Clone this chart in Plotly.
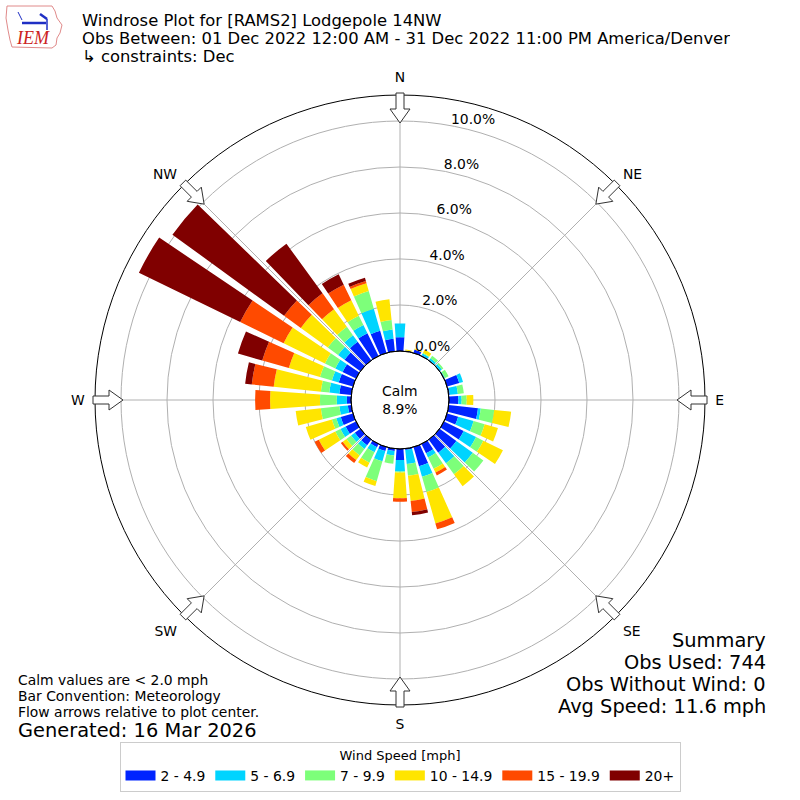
import math

import plotly.graph_objects as go

# wind direction bins (degrees, meteorological: direction wind blows from)
directions = list(range(0, 360, 10))

speed_labels = ["2 - 4.9", "5 - 6.9", "7 - 9.9", "10 - 14.9", "15 - 19.9", "20+"]
speed_colors = ["#0024FF", "#00D4FF", "#7DFF7A", "#FFE500", "#FF4A00", "#800000"]

# frequency (%) of each speed bin per direction
pct_2_5 = [0.60, 0.03, 0.15, 0.03, 0.02, 0.02, 0.02, 0.55, 0.05, 0.41, 1.28, 0.50,
           0.95, 0.90, 0.70, 0.45, 0.87, 0.05, 0.48, 0.10, 0.18, 0.15, 0.30, 0.30,
           0.50, 0.55, 0.15, 0.18, 0.52, 0.64, 0.65, 0.85, 1.00, 1.10, 1.00, 0.55]
pct_5_7 = [0.60, 0.00, 0.00, 0.09, 0.10, 0.10, 0.03, 0.17, 0.35, 0.14, 0.12, 0.70,
           0.60, 0.88, 0.57, 0.20, 0.47, 0.62, 0.50, 0.20, 0.46, 0.25, 0.20, 0.20,
           0.25, 0.20, 0.37, 0.44, 0.44, 0.31, 0.35, 0.35, 0.35, 0.40, 1.00, 0.40]
pct_7_10 = [0.00, 0.00, 0.00, 0.03, 0.13, 0.08, 0.17, 0.00, 0.26, 0.22, 0.59, 0.50,
            0.35, 0.57, 0.59, 0.55, 0.69, 0.51, 0.04, 0.36, 0.90, 0.50, 0.35, 0.25,
            0.25, 0.20, 0.81, 0.73, 0.37, 0.54, 0.50, 0.55, 0.45, 0.45, 0.80, 0.42]
pct_10_15 = [0.00, 0.05, 0.05, 0.15, 0.00, 0.00, 0.00, 0.00, 0.00, 0.29, 0.74, 0.60,
             0.95, 0.00, 0.64, 0.18, 1.42, 1.10, 1.12, 0.00, 0.22, 0.23, 0.25, 0.20,
             0.80, 1.18, 1.10, 2.17, 2.06, 1.41, 2.00, 1.45, 0.95, 0.75, 0.35, 0.90]
pct_15_20 = [0.00, 0.00, 0.00, 0.00, 0.00, 0.00, 0.00, 0.00, 0.00, 0.00, 0.00, 0.00,
             0.00, 0.00, 0.00, 0.14, 0.27, 0.49, 0.15, 0.00, 0.00, 0.00, 0.16, 0.10,
             0.20, 0.00, 0.00, 0.65, 0.96, 1.20, 2.10, 0.90, 0.85, 0.75, 0.10, 0.00]
pct_20_up = [0.00, 0.00, 0.00, 0.00, 0.00, 0.00, 0.00, 0.00, 0.00, 0.00, 0.00, 0.00,
             0.00, 0.00, 0.00, 0.00, 0.00, 0.14, 0.00, 0.00, 0.00, 0.00, 0.00, 0.00,
             0.00, 0.00, 0.00, 0.00, 0.29, 1.10, 4.90, 6.00, 2.67, 0.50, 0.15, 0.00]

calm_pct = 8.9
ring_vals = [0, 2, 4, 6, 8, 10]
compass_angles = [0, 45, 90, 135, 180, 225, 270, 315]
compass_labels = ["N", "NE", "E", "SE", "S", "SW", "W", "NW"]

station = "[RAMS2] Lodgepole 14NW"
period = "01 Dec 2022 12:00 AM - 31 Dec 2022 11:00 PM America/Denver"
summary_lines = ["Summary", "Obs Used: 744", "Obs Without Wind: 0", "Avg Speed: 11.6 mph"]
note_lines = ["Calm values are < 2.0 mph", "Bar Convention: Meteorology",
              "Flow arrows relative to plot center."]

FONT = "DejaVu Sans"
FS = 13.9              # matplotlib 10pt at 100 dpi
W = H = 800
CX = CY = 400          # pixel center of the rose
R_OUT = 305            # outer radius in px
R_HOLE = 49            # calm circle radius in px

fig = go.Figure()

series = [pct_2_5, pct_5_7, pct_7_10, pct_10_15, pct_15_20, pct_20_up]
for label, color, vals in zip(speed_labels, speed_colors, series):
    fig.add_trace(go.Barpolar(
        r=vals, theta=directions, width=8, name=label,
        marker=dict(color=color, line=dict(width=0)),
        showlegend=False, hoverinfo="skip",
    ))
    # wide swatch for the legend
    fig.add_trace(go.Scatterpolar(
        r=[None], theta=[None], mode="lines", name=label,
        line=dict(color=color, width=10), hoverinfo="skip",
    ))


def px(x, y):
    return x / W, 1 - y / H


def arrow_path(deg):
    a = math.radians(deg)
    u = (math.sin(a), math.cos(a))
    p = (math.cos(a), -math.sin(a))
    pts = [(307, 4), (291, 4), (291, 10), (277, 0), (291, -10), (291, -4), (307, -4)]
    out = []
    for r, s in pts:
        x = CX + r * u[0] + s * p[0]
        y = CY - (r * u[1] + s * p[1])
        fx, fy = px(x, y)
        out.append(f"{fx:.5f},{fy:.5f}")
    return "M" + " L".join(out) + " Z"


def line_path(pts):
    return "M" + " L".join("%.5f,%.5f" % px(x, y) for x, y in pts)


shapes = []
for deg in compass_angles:
    shapes.append(dict(type="path", xref="paper", yref="paper", path=arrow_path(deg),
                       fillcolor="white", line=dict(color="#333333", width=1), layer="above"))

# calm circle border
x0, y0 = px(CX - R_HOLE, CY + R_HOLE)
x1, y1 = px(CX + R_HOLE, CY - R_HOLE)
shapes.append(dict(type="circle", xref="paper", yref="paper", x0=x0, y0=y0, x1=x1, y1=y1,
                   line=dict(color="black", width=1), layer="above"))

# IEM logo, roughly
iowa = [(7, 6), (52, 6), (55, 11), (57, 18), (62, 25), (60, 33), (57, 38), (56, 45),
        (52, 48), (12, 47), (10, 40), (8, 30), (6, 18), (7, 6)]
shapes.append(dict(type="path", xref="paper", yref="paper", path=line_path(iowa),
                   line=dict(color="#e08a8a", width=1)))
shapes.append(dict(type="path", xref="paper", yref="paper",
                   path=line_path([(22, 23), (46, 23)]), line=dict(color="#1f2fc4", width=2.5)))
shapes.append(dict(type="path", xref="paper", yref="paper",
                   path=line_path([(40, 14), (47, 19)]), line=dict(color="#1f2fc4", width=2.5)))
shapes.append(dict(type="path", xref="paper", yref="paper",
                   path=line_path([(47, 19), (47, 30)]), line=dict(color="#1f2fc4", width=1.5)))
shapes.append(dict(type="path", xref="paper", yref="paper",
                   path=line_path([(18, 12), (22, 20)]), line=dict(color="#1f2fc4", width=1)))

annotations = []
title_lines = [f"Windrose Plot for {station}", f"Obs Between: {period}",
               "\u21b3 constraints: Dec"]
title_y = [19.5, 37.5, 56.5]
for t, ty in zip(title_lines, title_y):
    annotations.append(dict(x=80 / W, y=1 - ty / H, xref="paper", yref="paper",
                            text=t, showarrow=False, xanchor="left", yanchor="middle",
                            height=18,
                            font=dict(family=FONT, size=16.4, color="black")))

annotations.append(dict(x=0.5, y=0.5, xref="paper", yref="paper",
                        text=f"Calm<br>{calm_pct}%", showarrow=False,
                        font=dict(family=FONT, size=FS, color="black")))

for i, t in enumerate(note_lines):
    annotations.append(dict(x=16 / W, y=1 - (680 + 16 * i) / H, xref="paper", yref="paper",
                            text=t, showarrow=False, xanchor="left", yanchor="middle",
                            height=16,
                            font=dict(family=FONT, size=FS, color="black")))
annotations.append(dict(x=16 / W, y=1 - 730 / H, xref="paper", yref="paper",
                        text="Generated: 16 Mar 2026", showarrow=False,
                        xanchor="left", yanchor="middle",
                        font=dict(family=FONT, size=19.4, color="black")))

for i, t in enumerate(summary_lines):
    annotations.append(dict(x=768 / W, y=1 - (640 + 22 * i) / H, xref="paper", yref="paper",
                            text=t, showarrow=False, xanchor="right", yanchor="middle",
                            height=22,
                            font=dict(family=FONT, size=19.4, color="black")))

annotations.append(dict(x=14 / W, y=1 - 38 / H, xref="paper", yref="paper", text="IEM",
                        showarrow=False, xanchor="left", yanchor="middle",
                        font=dict(family="Liberation Serif", size=18, color="#cc2222",
                                  style="italic")))

dom = [(CX - R_OUT) / W, (CX + R_OUT) / W]
fig.update_layout(
    width=W, height=H,
    margin=dict(l=0, r=0, t=0, b=0),
    paper_bgcolor="white",
    font=dict(family=FONT, size=FS, color="black"),
    polar=dict(
        domain=dict(x=dom, y=dom),
        hole=R_HOLE / R_OUT,
        bgcolor="white",
        barmode="stack",
        radialaxis=dict(
            range=[0, (R_OUT - R_HOLE) / 23.0],
            tickvals=ring_vals,
            # second, blank line lifts each label above its ring, as in the original
            ticktext=[f"{v:.1f}%<br> " for v in ring_vals],
            angle=81, side="clockwise", tickangle=81,
            showline=False, ticks="",
            gridcolor="#b0b0b0", gridwidth=1,
            layer="above traces",
            tickfont=dict(size=FS),
        ),
        angularaxis=dict(
            direction="clockwise", rotation=90,
            tickvals=compass_angles, ticktext=compass_labels,
            ticks="outside", ticklen=7, tickcolor="rgba(0,0,0,0)",
            showline=True, linecolor="black", linewidth=1,
            gridcolor="#b0b0b0", gridwidth=1,
            layer="above traces",
            tickfont=dict(size=FS),
        ),
    ),
    legend=dict(
        orientation="h", x=0.5, xanchor="center", y=1 - 742 / H, yanchor="top",
        title=dict(text="Wind Speed [mph]", side="top center", font=dict(size=13)),
        bgcolor="white", bordercolor="#cccccc", borderwidth=1,
        font=dict(size=FS), itemwidth=30,
    ),
    shapes=shapes,
    annotations=annotations,
)

# the page's default body margin would push the 800px figure off centre
fig.write_html("out.html", config={"displayModeBar": False},
               post_script="document.body.style.margin = '0';")
